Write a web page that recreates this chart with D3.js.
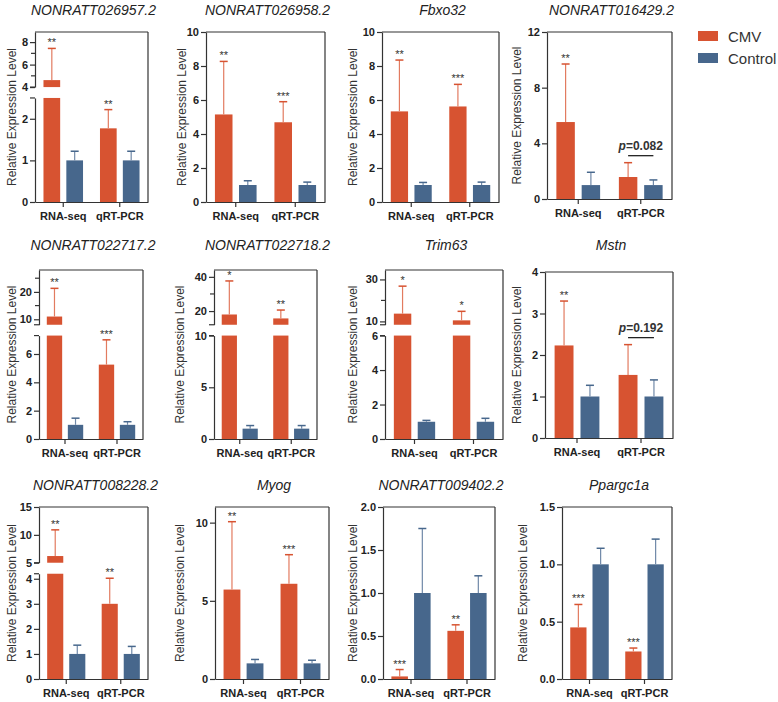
<!DOCTYPE html>
<html><head><meta charset="utf-8">
<script src="https://cdn.jsdelivr.net/npm/d3@7"></script>
<style>body{margin:0;background:#fff;} svg text{font-family:"Liberation Sans",Arial,sans-serif;}</style>
</head><body><svg id="c" width="778" height="702"></svg>
<script>
// ---------------- DATA ----------------
const titles = ["NONRATT026957.2","NONRATT026958.2","Fbxo32","NONRATT016429.2",
  "NONRATT022717.2","NONRATT022718.2","Trim63","Mstn",
  "NONRATT008228.2","Myog","NONRATT009402.2","Ppargc1a"];
const categories = ["RNA-seq","qRT-PCR"];
const groups = ["CMV","Control"];
const cmvMean = [[4.62,1.77],[5.15,4.69],[5.33,5.62],[5.53,1.58],
  [11,5.25],[18,15.7],[13.7,10.5],[2.23,1.52],
  [6.2,3.0],[5.72,6.09],[0.03,0.56],[0.45,0.24]];
const cmvErrTop = [[7.44,2.22],[8.27,5.9],[8.35,6.92],[9.7,2.61],
  [21.3,7.0],[37.6,20.6],[26.8,14.8],[3.3,2.25],
  [10.9,4.02],[10.06,7.95],[0.11,0.63],[0.65,0.27]];
const ctrlMean = [[1,1],[1,1],[1,1],[1,1],[1,1],[1,1],[1,1],[1,1],[1,1],[1,1],[1,1],[1,1]];
const ctrlErrTop = [[1.22,1.22],[1.25,1.17],[1.15,1.17],[1.92,1.37],
  [1.47,1.22],[1.3,1.3],[1.08,1.2],[1.27,1.4],
  [1.35,1.3],[1.25,1.2],[1.75,1.2],[1.14,1.22]];
const cmvStars = [["**","**"],["**","***"],["**","***"],["**",null],
  ["**","***"],["*","**"],["*","*"],["**",null],
  ["**","**"],["**","***"],["***","**"],["***","***"]];
const pValues = [null,null,null,"0.082",null,null,null,"0.192",null,null,null,null];
// y-axis segments (value domains; two entries = broken axis)
const axisDomains = [
  [[0,2.5],[4,8.9]], [[0,10]], [[0,10]], [[0,12]],
  [[0,7.3],[8,28]], [[0,10],[12,44]], [[0,6],[8.4,34.5]], [[0,4]],
  [[0,4.2],[5,15]], [[0,11]], [[0,2]], [[0,1.5]]
];
const yTicks = [
  [0,1,2,4,6,8],[0,2,4,6,8,10],[0,2,4,6,8,10],[0,4,8,12],
  [0,2,4,6,10,20],[0,5,10,20,40],[0,2,4,6,10,30],[0,1,2,3,4],
  [0,1,2,3,4,5,10,15],[0,5,10],[0,0.5,1,1.5,2],[0,0.5,1,1.5]
];
const yMinorTicks = [[5,7],[],[],[],[15,25],[30],[20],[],[],[],[],[]];
const yLabel = "Relative Expression Level";

// ---------------- LAYOUT ----------------
// x0, x1, yTop, yBottom, yLabelX
const frames = [
  [35,148,32,202,12],[206,325,32,202,182],[382,499,32,202,353],[547,672,32,199,517],
  [39,143,270,439,12],[214,317,270,439,180],[385,503,270,439,353],[545,673,272,438,517],
  [39,148,507,679,12],[215,329,507,679,180],[383,495,507,679,353],[562,672,507,679,523]
];
const titleY = [15,15,15,15,250,250,250,250,490,490,490,490];
const brokenFracs = [[0,0.612],[0.676,1]];
const colors = {CMV:"#D75331", Control:"#47678C"};
const stemColors = {CMV:"#E27B60", Control:"#7089A8"};
const axisColor = "#333";

const svg = d3.select("#c");

titles.forEach((title, i) => {
  const [x0, x1, yT, yB, labX] = frames[i];
  const H = yB - yT;
  const doms = axisDomains[i];
  const fr = doms.length === 1 ? [[0,1]] : brokenFracs;
  const segs = doms.map((d, k) => ({
    dom: d,
    y: d3.scaleLinear().domain(d).range([yB - fr[k][0]*H, yB - fr[k][1]*H])
  }));
  const segOf = v => { let s = segs[0]; segs.forEach(g => { if (v >= g.dom[0]) s = g; }); return s; };
  const yOf = v => segOf(v).y(Math.min(v, segOf(v).dom[1]));

  const g = svg.append("g");

  const xg = d3.scaleBand().domain(categories).range([x0, x1]).paddingInner(0.3).paddingOuter(0.15);
  const xi = d3.scaleBand().domain(groups).range([0, xg.bandwidth()]).paddingInner(0.27);

  const series = [
    {name:"CMV", mean:cmvMean[i], err:cmvErrTop[i]},
    {name:"Control", mean:ctrlMean[i], err:ctrlErrTop[i]}
  ];

  series.forEach(s => {
    categories.forEach((c, j) => {
      const v = s.mean[j];
      const bx = xg(c) + xi(s.name);
      segs.forEach(seg => {
        if (v > seg.dom[0]) {
          const top = seg.y(Math.min(v, seg.dom[1]));
          const bot = seg.y(seg.dom[0]);
          g.append("rect").attr("x", bx).attr("width", xi.bandwidth())
            .attr("y", top).attr("height", bot - top).attr("fill", colors[s.name]);
        }
      });
      const cx = bx + xi.bandwidth()/2;
      const e = s.err[j];
      g.append("line").attr("x1", cx).attr("x2", cx).attr("y1", yOf(v)).attr("y2", yOf(e))
        .attr("stroke", stemColors[s.name]).attr("stroke-width", 1.2);
      g.append("line").attr("x1", cx - 4).attr("x2", cx + 4).attr("y1", yOf(e)).attr("y2", yOf(e))
        .attr("stroke", colors[s.name]).attr("stroke-width", 1.5);
    });
  });

  categories.forEach((c, j) => {
    const st = cmvStars[i][j];
    if (st) {
      const cx = xg(c) + xi("CMV") + xi.bandwidth()/2;
      g.append("text").attr("x", cx).attr("y", yOf(cmvErrTop[i][j]) - 2)
        .attr("text-anchor", "middle").attr("font-size", 11).attr("fill", "#333").text(st);
    }
  });

  if (pValues[i]) {
    const j = 1;
    const c1 = xg(categories[j]) + xi("CMV") + xi.bandwidth()/2;
    const c2 = xg(categories[j]) + xi("Control") + xi.bandwidth()/2;
    const ly = Math.min(yOf(cmvErrTop[i][j]), yOf(ctrlErrTop[i][j])) - 7;
    g.append("line").attr("x1", c1).attr("x2", c2).attr("y1", ly).attr("y2", ly)
      .attr("stroke", "#222").attr("stroke-width", 1.3);
    const t = g.append("text").attr("x", (c1 + c2)/2).attr("y", ly - 6)
      .attr("text-anchor", "middle").attr("font-size", 12).attr("font-weight", "bold").attr("fill", "#333");
    t.append("tspan").attr("font-style", "italic").text("p");
    t.append("tspan").text("=" + pValues[i]);
  }

  g.append("line").attr("x1", x0).attr("x2", x1).attr("y1", yT).attr("y2", yT).attr("stroke", axisColor).attr("stroke-width", 1.2);
  g.append("line").attr("x1", x1).attr("x2", x1).attr("y1", yT).attr("y2", yB).attr("stroke", axisColor).attr("stroke-width", 1.2);

  const fmt = yTicks[i].some(t => !Number.isInteger(t)) ? d3.format(".1f") : d3.format("d");
  segs.forEach((seg, k) => {
    const tv = yTicks[i].filter(t => t >= seg.dom[0] - 1e-9 && t <= seg.dom[1] + 1e-9);
    const ax = d3.axisLeft(seg.y).tickValues(tv).tickFormat(fmt).tickSize(5).tickSizeOuter(0).tickPadding(2);
    const a = g.append("g").attr("transform", `translate(${x0},0)`).call(ax);
    a.selectAll("path,line").attr("stroke", axisColor).attr("stroke-width", 1.2);
    a.selectAll("text").attr("font-size", 11).attr("font-weight", "bold").attr("fill", "#222")
      .attr("font-family", "Liberation Sans, Arial, sans-serif");
    yMinorTicks[i].filter(t => t > seg.dom[0] && t < seg.dom[1]).forEach(t => {
      g.append("line").attr("x1", x0 - 4).attr("x2", x0).attr("y1", seg.y(t)).attr("y2", seg.y(t))
        .attr("stroke", axisColor).attr("stroke-width", 1.2);
    });
    if (segs.length > 1) {
      const ends = k === 0 ? [seg.dom[1]] : [seg.dom[0]];
      ends.forEach(t => {
        g.append("line").attr("x1", x0 - 5).attr("x2", x0).attr("y1", seg.y(t)).attr("y2", seg.y(t))
          .attr("stroke", axisColor).attr("stroke-width", 1.2);
      });
    }
  });

  const xa = g.append("g").attr("transform", `translate(0,${yB})`)
    .call(d3.axisBottom(xg).tickSize(5).tickSizeOuter(0).tickPadding(5));
  xa.selectAll("path,line").attr("stroke", axisColor).attr("stroke-width", 1.2);
  xa.selectAll("text").attr("font-size", 11).attr("font-weight", "bold").attr("fill", "#222")
    .attr("font-family", "Liberation Sans, Arial, sans-serif");

  g.append("text").attr("transform", `translate(${labX},${(yT + yB)/2}) rotate(-90)`)
    .attr("text-anchor", "middle").attr("dominant-baseline", "central")
    .attr("font-size", 12).attr("fill", "#333").text(yLabel);

  g.append("text").attr("x", (x0 + x1)/2 + 2).attr("y", titleY[i])
    .attr("text-anchor", "middle").attr("font-size", 14).attr("font-style", "italic")
    .attr("fill", "#222").text(title);
});

const leg = svg.append("g");
groups.forEach((name, k) => {
  leg.append("rect").attr("x", 698).attr("y", 31 + k*22).attr("width", 20).attr("height", 10).attr("fill", colors[name]);
  leg.append("text").attr("x", 728).attr("y", 36 + k*22).attr("dominant-baseline", "central")
    .attr("font-size", 15).attr("fill", "#333").text(name);
});
</script></body></html>
